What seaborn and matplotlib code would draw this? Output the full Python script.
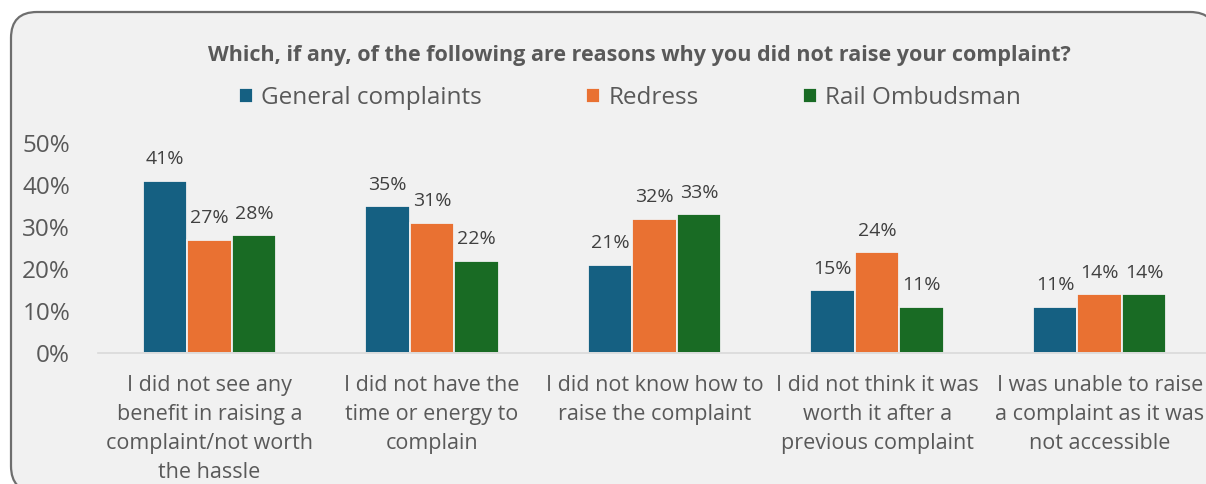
import matplotlib
matplotlib.use("Agg")
import matplotlib.pyplot as plt
from matplotlib.patches import FancyBboxPatch
from matplotlib.transforms import IdentityTransform
import pandas as pd
import seaborn as sns

# Survey results: share of respondents giving each reason (%)
reasons = [
    "I did not see any\nbenefit in raising a\ncomplaint/not worth\nthe hassle",
    "I did not have the\ntime or energy to\ncomplain",
    "I did not know how to\nraise the complaint",
    "I did not think it was\nworth it after a\nprevious complaint",
    "I was unable to raise\na complaint as it was\nnot accessible",
]
series_names = ["General complaints", "Redress", "Rail Ombudsman"]
general = [41, 35, 21, 15, 11]
redress = [27, 31, 32, 24, 14]
ombudsman = [28, 22, 33, 11, 14]
y_ticks = [0, 10, 20, 30, 40, 50]
title = "Which, if any, of the following are reasons why you did not raise your complaint?"

colors = ["#156082", "#e97132", "#196b24"]
bg = "#f1f1f1"
text_col = "#595959"

df = pd.DataFrame({
    "reason": reasons * 3,
    "series": [s for s in series_names for _ in reasons],
    "value": general + redress + ombudsman,
})

sns.set_theme(style="white")
plt.rcParams["font.family"] = ["Open Sans", "DejaVu Sans"]

W, H = 1206, 484
fig = plt.figure(figsize=(W / 100, H / 100), dpi=100, facecolor="white")

# rounded chart-area frame (pixel coordinates), drawn beneath the axes
frame = FancyBboxPatch((11, H - 492), 1205, 480,
                       boxstyle="round,pad=0,rounding_size=26",
                       transform=IdentityTransform(), facecolor=bg,
                       edgecolor="#6e6e6e", linewidth=1.6, zorder=-10)
fig.patches.append(frame)

ax = fig.add_axes([98 / W, (H - 353) / H, (1211 - 98) / W, (353 - 143) / H])
ax.set_facecolor("none")
ax.set_zorder(1)

sns.barplot(data=df, x="reason", y="value", hue="series",
            hue_order=series_names, palette=colors, order=reasons,
            saturation=1, width=0.6, edgecolor=bg, linewidth=1.3, ax=ax)

ax.set_ylim(0, 50)
ax.set_yticks(y_ticks)
ax.set_yticklabels([f"{t}%" for t in y_ticks])
ax.set_xlabel("")
ax.set_ylabel("")
for side in ["top", "left", "right"]:
    ax.spines[side].set_visible(False)
ax.spines["bottom"].set_color("#d9d9d9")
ax.spines["bottom"].set_linewidth(1.2)
ax.tick_params(axis="y", length=0, pad=20, labelsize=17.5, labelcolor=text_col)
ax.tick_params(axis="x", length=0, pad=16, labelsize=15.5, labelcolor=text_col)
for lab in ax.get_xticklabels():
    lab.set_linespacing(1.5)
    lab.set_verticalalignment("top")

for cont in ax.containers:
    ax.bar_label(cont, fmt="%.0f%%", padding=9, fontsize=14, color="#404040")

leg = ax.get_legend()
handles = leg.legend_handles
leg.remove()
fig.legend(handles, series_names, loc="center", ncol=3, frameon=False,
           bbox_to_anchor=(630 / W, 1 - 98 / H), fontsize=17.5,
           labelcolor=text_col, handlelength=0.58, handleheight=0.58,
           handletextpad=0.35, columnspacing=4.28)

fig.text(639 / W, 1 - 55 / H, title, ha="center", va="center",
         fontsize=15.5, fontweight="bold", color=text_col)

fig.savefig("out.png", dpi=100, facecolor="white")
